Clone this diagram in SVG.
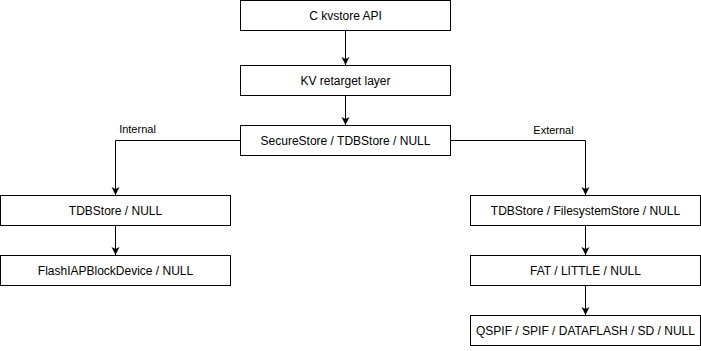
<svg xmlns="http://www.w3.org/2000/svg" width="701" height="351" viewBox="0 0 701 351">
<style>
.box{fill:#fff;stroke:#000;stroke-width:1}
.t{font-family:"Liberation Sans",Arial,sans-serif;font-size:12px;fill:#000;text-anchor:middle}
.l{font-family:"Liberation Sans",Arial,sans-serif;font-size:11px;fill:#000;text-anchor:middle}
.c{fill:none;stroke:#000;stroke-width:1}
</style>
<defs>
<marker id="a" markerWidth="10" markerHeight="10" refX="8" refY="4" orient="auto" markerUnits="userSpaceOnUse">
<path d="M0,0 L8,4 L0,8 L2,4 Z" fill="#000"/>
</marker>
</defs>
<rect width="701" height="351" fill="#fff"/>
<g id="connectors">
<path class="c" d="M345.5,30.5 V65" marker-end="url(#a)"/>
<path class="c" d="M345.5,95.5 V125" marker-end="url(#a)"/>
<path class="c" d="M240.5,140.5 H115.5 V195" marker-end="url(#a)"/>
<path class="c" d="M450.5,140.5 H585.5 V195" marker-end="url(#a)"/>
<path class="c" d="M115.5,225.5 V255" marker-end="url(#a)"/>
<path class="c" d="M585.5,225.5 V255" marker-end="url(#a)"/>
<path class="c" d="M585.5,285.5 V315" marker-end="url(#a)"/>
<text class="l" x="137.5" y="133">Internal</text>
<text class="l" x="553.5" y="134">External</text>
</g>
<g id="n1"><rect class="box" x="240.5" y="0.5" width="210" height="30"/><text class="t" x="345.5" y="20">C kvstore API</text></g>
<g id="n2"><rect class="box" x="240.5" y="65.5" width="210" height="30"/><text class="t" x="345.5" y="85">KV retarget layer</text></g>
<g id="n3"><rect class="box" x="240.5" y="125.5" width="210" height="30"/><text class="t" x="345.5" y="145">SecureStore / TDBStore / NULL</text></g>
<g id="n4"><rect class="box" x="0.5" y="195.5" width="230" height="30"/><text class="t" x="115.5" y="215">TDBStore / NULL</text></g>
<g id="n5"><rect class="box" x="0.5" y="255.5" width="230" height="30"/><text class="t" x="115.5" y="275">FlashIAPBlockDevice / NULL</text></g>
<g id="n6"><rect class="box" x="470.5" y="195.5" width="230" height="30"/><text class="t" x="585.5" y="215">TDBStore / FilesystemStore / NULL</text></g>
<g id="n7"><rect class="box" x="470.5" y="255.5" width="230" height="30"/><text class="t" x="585.5" y="275">FAT / LITTLE / NULL</text></g>
<g id="n8"><rect class="box" x="470.5" y="315.5" width="230" height="30"/><text class="t" x="585.5" y="335">QSPIF / SPIF / DATAFLASH / SD / NULL</text></g>
</svg>
